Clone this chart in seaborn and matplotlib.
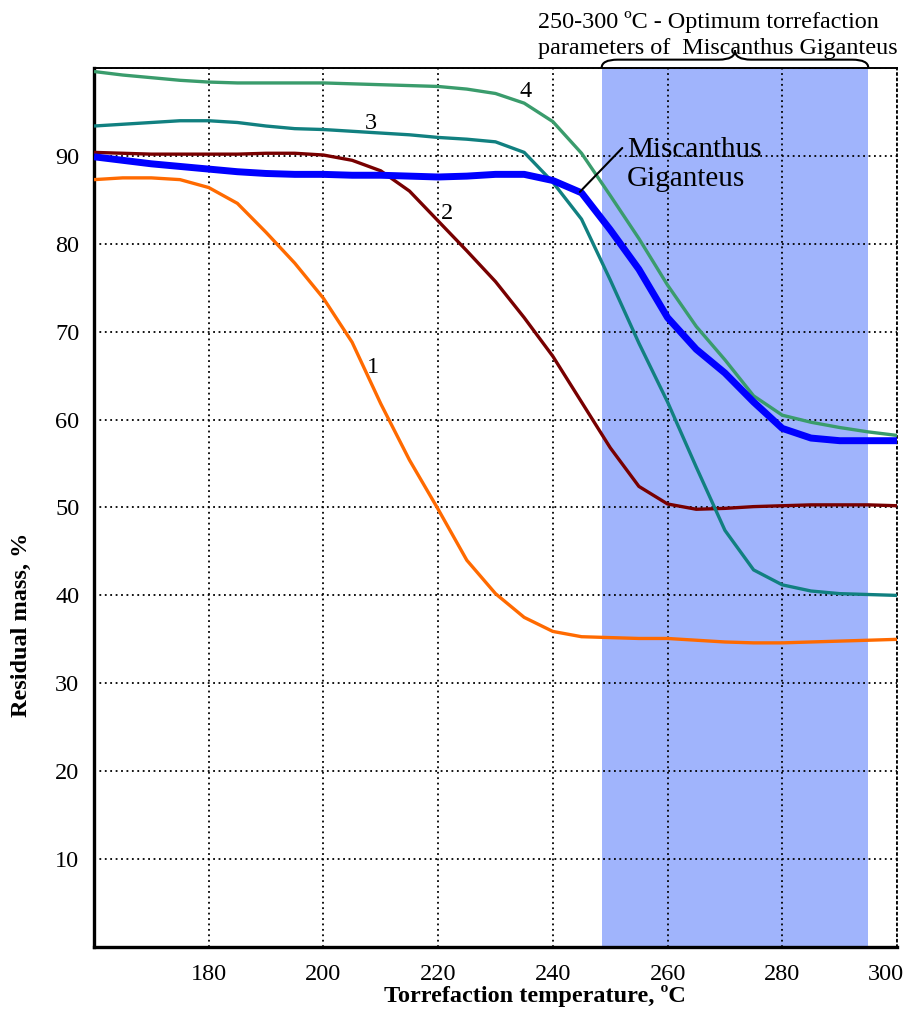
import numpy as np
import pandas as pd
import matplotlib
matplotlib.use('Agg')
import matplotlib.pyplot as plt
from matplotlib.path import Path
from matplotlib.patches import PathPatch
from matplotlib.transforms import ScaledTranslation
import seaborn as sns

# ============== data ==============
temps = list(range(160, 301, 5))

mass_1 = [87.3, 87.5, 87.5, 87.3, 86.4, 84.6, 81.3, 77.8, 73.8, 68.8,
          61.8, 55.4, 49.8, 44.0, 40.2, 37.5, 35.9, 35.3, 35.2, 35.1,
          35.1, 34.9, 34.7, 34.6, 34.6, 34.7, 34.8, 34.9, 35.0]
mass_2 = [90.4, 90.3, 90.2, 90.2, 90.2, 90.2, 90.3, 90.3, 90.1, 89.5,
          88.3, 86.0, 82.6, 79.2, 75.7, 71.6, 67.2, 62.0, 56.8, 52.4,
          50.4, 49.8, 49.9, 50.1, 50.2, 50.3, 50.3, 50.3, 50.2]
mass_3 = [93.4, 93.6, 93.8, 94.0, 94.0, 93.8, 93.4, 93.1, 93.0, 92.8,
          92.6, 92.4, 92.1, 91.9, 91.6, 90.4, 87.0, 82.8, 75.9, 68.7,
          62.0, 54.6, 47.4, 42.9, 41.2, 40.5, 40.2, 40.1, 40.0]
mass_4 = [99.6, 99.2, 98.9, 98.6, 98.4, 98.3, 98.3, 98.3, 98.3, 98.2,
          98.1, 98.0, 97.9, 97.6, 97.1, 96.0, 93.9, 90.3, 85.5, 80.6,
          75.3, 70.6, 66.8, 62.7, 60.5, 59.7, 59.1, 58.6, 58.2]
mass_mg = [89.9, 89.5, 89.1, 88.8, 88.5, 88.2, 88.0, 87.9, 87.9, 87.8,
           87.8, 87.7, 87.6, 87.7, 87.9, 87.9, 87.2, 85.8, 81.6, 77.1,
           71.6, 68.0, 65.3, 62.0, 59.0, 57.9, 57.6, 57.6, 57.6]

series_names = ['1', '2', '3', '4', 'Miscanthus Giganteus']
series_vals = [mass_1, mass_2, mass_3, mass_4, mass_mg]
colors = {
    '1': '#FF6A00',
    '2': '#780000',
    '3': '#118080',
    '4': '#3A9C6C',
    'Miscanthus Giganteus': '#0000FF',
}
widths = {'1': 2.4, '2': 2.4, '3': 2.4, '4': 2.4, 'Miscanthus Giganteus': 5.0}

# curve number labels (x, y)
label_pos = {'1': (208.7, 65.9), '2': (221.6, 83.4), '3': (208.2, 93.7), '4': (235.3, 97.3)}

opt_range = (248.5, 295.0)   # shaded region as drawn

df = pd.DataFrame({
    'temp': temps * len(series_names),
    'mass': sum(series_vals, []),
    'sample': sum([[n] * len(temps) for n in series_names], []),
})

# ============== plot ==============
sns.set_style('white')
plt.rcParams['font.family'] = ['Liberation Serif', 'DejaVu Serif']
plt.rcParams['text.color'] = 'black'
plt.rcParams['axes.labelcolor'] = 'black'
plt.rcParams['xtick.color'] = 'black'
plt.rcParams['ytick.color'] = 'black'

fig = plt.figure(figsize=(9.07, 10.10), dpi=100)
ax = fig.add_axes([94 / 907, 1 - 947 / 1010, (897 - 94) / 907, (947 - 68) / 1010])

ax.axvspan(*opt_range, color='#A0B4FC', lw=0, zorder=0.2)

for name in series_names:
    sub = df[df['sample'] == name]
    sns.lineplot(data=sub, x='temp', y='mass', ax=ax, color=colors[name],
                 linewidth=widths[name], legend=False, zorder=3,
                 solid_capstyle='butt', solid_joinstyle='round')

for name, (lx, ly) in label_pos.items():
    ax.text(lx, ly, name, fontsize=17.5, ha='center', va='center', zorder=4)

ax.set_xlim(160, 300)
ax.set_ylim(0, 100)
ax.set_xticks(range(160, 301, 20),
              labels=[''] + [str(v) for v in range(180, 301, 20)])
ax.set_yticks(range(0, 101, 10),
              labels=[''] + [str(v) for v in range(10, 91, 10)] + [''])
ax.tick_params(length=0, labelsize=17.5)
ax.tick_params(axis='x', pad=12)
ax.tick_params(axis='y', pad=10.5)
last = ax.get_xticklabels()[-1]
last.set_transform(last.get_transform() + ScaledTranslation(-0.11, 0, fig.dpi_scale_trans))

ax.set_axisbelow(True)
ax.grid(True, color='black', linestyle=(0, (1, 2)), linewidth=1.3)

ax.set_xlabel('Torrefaction temperature, ºC', fontsize=17.5, fontweight='bold')
ax.set_ylabel('Residual mass, %', fontsize=17.5, fontweight='bold')
ax.xaxis.set_label_coords(0.549, -0.0432)
ax.yaxis.set_label_coords(-0.0772, 0.366)

for side in ['left', 'bottom']:
    ax.spines[side].set_linewidth(2.4)
    ax.spines[side].set_color('black')
ax.spines['top'].set_linewidth(1.4)
ax.spines['top'].set_color('black')
ax.spines['right'].set_linewidth(1.3)
ax.spines['right'].set_linestyle((0, (1, 2)))
ax.spines['right'].set_color('black')

# Miscanthus annotation
ax.plot([244.7, 252.1], [85.9, 90.9], color='black', lw=1.5, zorder=4)
ax.text(252.9, 89.0, 'Miscanthus\nGiganteus', fontsize=21, ha='left',
        va='center', linespacing=1.13, zorder=4)

# curly brace above optimum range
x0, x1 = opt_range
xm = (x0 + x1) / 2
yb, yh, yt = 100.0, 100.95, 102.0
q = 2.8
verts = [(x0, yb), (x0, yh), (x0 + q, yh),
         (xm - q, yh),
         (xm, yh), (xm, yt),
         (xm, yh), (xm + q, yh),
         (x1 - q, yh),
         (x1, yh), (x1, yb)]
codes = [Path.MOVETO, Path.CURVE3, Path.CURVE3,
         Path.LINETO,
         Path.CURVE3, Path.CURVE3,
         Path.CURVE3, Path.CURVE3,
         Path.LINETO,
         Path.CURVE3, Path.CURVE3]
ax.add_patch(PathPatch(Path(verts, codes), fill=False, lw=1.5,
                       color='black', clip_on=False, zorder=5))

ax.text(237.4, 105.2, '250-300 ºC - Optimum torrefaction', fontsize=17.4,
        ha='left', va='center', clip_on=False)
ax.text(237.4, 102.2, 'parameters of  Miscanthus Giganteus', fontsize=17.4,
        ha='left', va='center', clip_on=False)

fig.savefig('out.png', dpi=100)
plt.close(fig)
